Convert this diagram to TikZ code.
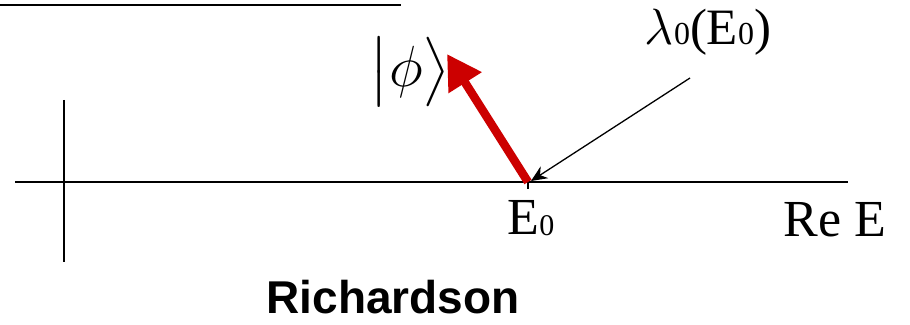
\RequirePackage{fix-cm}
\documentclass[tikz,border=0pt]{standalone}
\usepackage{amsmath,amssymb}
\usepackage{fontspec}
\setmainfont{Liberation Serif}
\setsansfont{Liberation Sans}
\usepackage{tikz}
\usepackage{xcolor}
\usetikzlibrary{arrows.meta}
\definecolor{arrowred}{RGB}{204,0,0}
\newcommand{\bigtxt}{\fontsize{52}{56}\selectfont}
\newcommand{\subtxt}{\fontsize{30}{32}\selectfont}
\newcommand{\lamtxt}{\fontsize{51}{54}\selectfont}

\begin{document}
\begin{tikzpicture}[x=1pt,y=1pt]
\useasboundingbox (0,0) rectangle (910,324);
\draw[line width=1.3pt] (0,319)--(401,319);
\draw[line width=1.3pt] (15,142)--(848,142);\draw[line width=1.3pt] (64,224)--(64,62);
\coordinate (Ezero) at (528,142);
\coordinate (phitip) at (447,270);
\draw[line width=2.8pt] (528,148)--(528,135);
\node[anchor=base,inner sep=0pt] (Elabel) at (531,89) {\bigtxt E\raisebox{-1pt}{\subtxt 0}};
\node[anchor=base,inner sep=0pt] (ReE) at (835,87) {\bigtxt Re E};
\node[inner sep=0pt] (phi) at (410,252) {\fontsize{58}{60}\selectfont $\bigl|\phi\bigr\rangle$};
\node[anchor=base,inner sep=0pt] (lam) at (708,279) {\lamtxt $\lambda$\fontsize{32}{34}\selectfont 0\lamtxt (E\fontsize{32}{34}\selectfont 0\lamtxt )};
\coordinate (lamfoot) at (690,246);
\draw[arrowred,line width=8.5pt,-{Triangle[length=34pt,width=37pt]}] (Ezero)--(phitip);
\draw[line width=1.3pt,-{Stealth[length=16pt,width=14pt]}] (lamfoot)--(531,143);
\node[anchor=base,inner sep=0pt] (rich) at (393,11) {\fontsize{46}{50}\selectfont\sffamily\bfseries Richardson};
\end{tikzpicture}
\end{document}
